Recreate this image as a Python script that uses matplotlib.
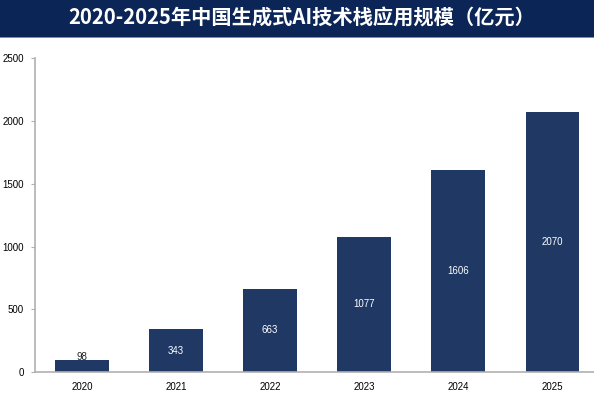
import matplotlib.pyplot as plt
from matplotlib.patches import Rectangle

plt.rcParams['font.family'] = ['Noto Sans CJK SC', 'DejaVu Sans']

# 数据
years = ['2020', '2021', '2022', '2023', '2024', '2025']
values = [98, 343, 663, 1077, 1606, 2070]
y_ticks = [0, 500, 1000, 1500, 2000, 2500]

title = '2020-2025年中国生成式AI技术栈应用规模（亿元）'
bar_color = '#1f3864'
banner_color = '#0b2557'
num_font = ['Liberation Sans', 'DejaVu Sans']

fig = plt.figure(figsize=(5.94, 3.98), dpi=100)

# 顶部标题栏
fig.patches.append(Rectangle((0, 0.907), 1, 0.093, transform=fig.transFigure,
                             facecolor=banner_color, edgecolor='none', zorder=0))
fig.patches.append(Rectangle((0, 0.904), 1, 0.004, transform=fig.transFigure,
                             facecolor='#7f8fab', edgecolor='none', zorder=0))
fig.text(0.508, 0.955, title, ha='center', va='center', color='white',
         fontsize=14.6, fontweight='bold')

ax = fig.add_axes([0.059, 0.065, 0.95, 0.789])
x = range(len(years))
bars = ax.bar(x, values, width=0.57, color=bar_color, zorder=2)

for i, v in enumerate(values):
    if v < 200:
        ax.text(i, 120, str(v), ha='center', va='center', color='#222222',
                fontsize=7, family=num_font)
    else:
        ax.text(i, v / 2, str(v), ha='center', va='center', color='white',
                fontsize=7, family=num_font)

ax.set_xlim(-0.5, 5.5)
ax.set_ylim(0, 2500)
ax.set_yticks(y_ticks)
ax.set_xticks(list(x))
ax.set_xticklabels(years)
ax.tick_params(axis='y', labelsize=7, length=3, color='#b0b0b0', pad=5)
ax.tick_params(axis='x', labelsize=7, length=0, pad=7)
for lab in ax.get_xticklabels() + ax.get_yticklabels():
    lab.set_family(num_font)

for s in ['top', 'right']:
    ax.spines[s].set_visible(False)
for s in ['left', 'bottom']:
    ax.spines[s].set_color('#b0b0b0')
    ax.spines[s].set_linewidth(1.2)

fig.savefig('out.png', dpi=100)
